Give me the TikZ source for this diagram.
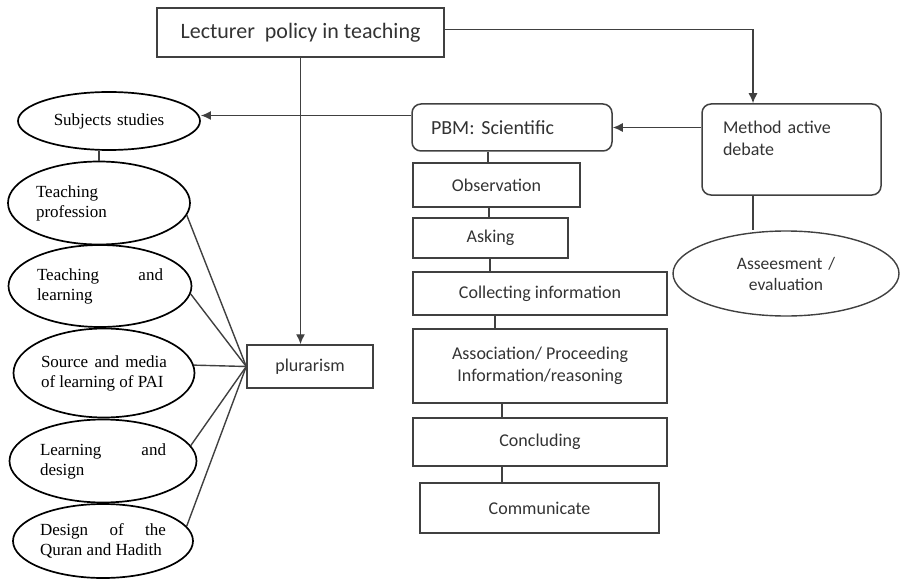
\documentclass[tikz,border=0pt]{standalone}
\usepackage{fontspec}
\setmainfont{Liberation Serif}
\newfontfamily\calib{Carlito}
\usetikzlibrary{shapes.geometric,arrows.meta}

\begin{document}
\begin{tikzpicture}[
    x=1pt,y=-1pt,
    box/.style={draw=black!75,line width=1.5pt,inner sep=0pt,text=black!80,
      font=\calib\fontsize{18}{22}\selectfont},
    rbox/.style={box,rounded corners=9pt,align=left},
    oval/.style={draw,ellipse,line width=1.7pt,inner sep=0pt,text width=126pt,
      align=justify,font=\fontsize{17}{20}\selectfont},
    link/.style={draw=black!75,line width=1.4pt},
    arr/.style={link,-{Latex[length=10pt,width=9pt]}}
    ]
    \useasboundingbox (0,0) rectangle (901,580);

    \node[box,minimum width=287pt,minimum height=49pt,
      font=\calib\fontsize{22}{26}\selectfont] (top) at (300.5,32.5) {Lecturer~ policy in teaching};
    \node[rbox,minimum width=200pt,minimum height=47pt,text width=162pt,
      font=\calib\fontsize{20}{24}\selectfont] (pbm) at (512,127.5) {PBM: Scientific};
    \node[rbox,minimum width=179pt,minimum height=91pt,text width=137pt] (meth) at (791.5,149.5)
      {Method active\\debate\\\mbox{}};

    \node[box,minimum width=167pt,minimum height=44pt] (obs) at (496.5,185) {Observation};
    \node[box,minimum width=155pt,minimum height=40pt] (ask) at (490.5,238) {Asking};
    \node[box,minimum width=254pt,minimum height=43pt] (coll) at (540,293.5) {Collecting information};
    \node[box,minimum width=254pt,minimum height=74pt,align=center] (asso) at (540,366)
      {Association/ Proceeding\\Information/reasoning};
    \node[box,minimum width=254pt,minimum height=48pt] (conc) at (540,442) {Concluding};
    \node[box,minimum width=239pt,minimum height=50pt] (comm) at (539.5,508) {Communicate};
    \node[box,minimum width=126pt,minimum height=43pt] (plur) at (310,366.5) {plurarism};

    \node[oval,minimum width=182pt,minimum height=58pt,align=center] (subj) at (109,121) {Subjects studies};
    \node[oval,minimum width=182pt,minimum height=83pt] (prof) at (99,203) {Teaching\\profession};
    \node[oval,minimum width=183pt,minimum height=82pt] (tl) at (100,286) {Teaching\hfill and\\learning};
    \node[oval,minimum width=181pt,minimum height=89pt] (src) at (104,373)
      {Source\hfill and\hfill media\\of learning of PAI};
    \node[oval,minimum width=187pt,minimum height=83pt] (ld) at (103,461) {Learning\hfill and\\design};
    \node[oval,minimum width=180pt,minimum height=74pt] (dq) at (103,541)
      {Design\hfill of\hfill the\\Quran and Hadith};
    \node[oval,minimum width=226pt,minimum height=85pt,align=center,draw=black!75,line width=1.4pt,
      text=black!80,font=\calib\fontsize{17.5}{21}\selectfont] (asse) at (786,273.5)
      {Asseesment /\\evaluation};

    % arrows between the main boxes
    \coordinate (mx) at ([xshift=-38.5pt]meth.north);
    \coordinate (my) at ([xshift=-38.5pt]meth.south);
    \coordinate (pw) at ([yshift=12pt]pbm.west);
    \draw[arr] ([yshift=3pt]top.east) -| (mx);
    \draw[arr] (meth.west |- pbm.east) -- (pbm.east);
    \draw[arr] (pw) -- (pw -| subj.east);
    \draw[arr] (top) -- (top |- plur.north);
    \draw[link] (my) -- (my |- asse.north);

    % steps of the scientific approach
    \foreach \a/\b/\xx in {pbm/obs/488,obs/ask/489,ask/coll/490,coll/asso/495,asso/conc/502,conc/comm/502}{
      \coordinate (cx) at (\xx,0);
      \draw[link] (cx |- \a.south) -- (cx |- \b.north);
    }

    % ovals on the left
    \draw[link] (prof.north |- subj.south) -- (prof.north);
    \foreach \o/\ang in {prof/-8,tl/-5,src/5,ld/10,dq/10}
      \draw[link] (\o.\ang) -- (plur.west);
  \end{tikzpicture}
\end{document}
